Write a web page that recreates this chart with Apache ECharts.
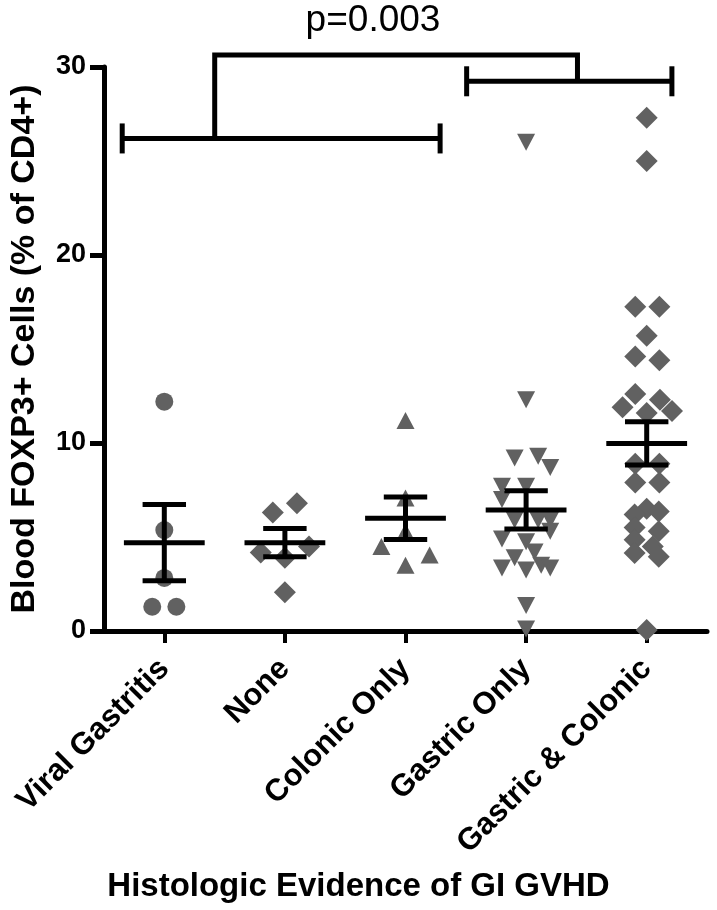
<!DOCTYPE html>
<html>
<head>
<meta charset="utf-8">
<script src="https://cdn.jsdelivr.net/npm/echarts@6/dist/echarts.min.js"></script>
<style>
html,body{margin:0;padding:0;background:#ffffff;}
#chart{width:717px;height:910px;}
</style>
</head>
<body>
<div id="chart"></div>
<script>
// ---- data ----
const categories = ['Viral Gastritis', 'None', 'Colonic Only', 'Gastric Only', 'Gastric & Colonic'];

const viralValues  = [12.2, 5.37, 2.82, 1.29, 1.29];
const viralOffsets = [0, 0, 0, -0.1, 0.1];

const noneValues  = [6.3, 6.8, 4.17, 3.9, 4.5, 2.06];
const noneOffsets = [-0.1, 0.1, -0.2, 0, 0.2, 0];

const colonicValues  = [11.2, 7.07, 5.28, 4.49, 4.04, 3.5];
const colonicOffsets = [0, 0, 0, -0.2, 0.2, 0];

const gastricValues  = [26.0, 12.3, 9.2, 9.3, 8.7, 7.7, 7.7, 7.0, 5.9, 5.9, 5.9, 5.3, 4.9, 4.75, 4.2, 3.9, 3.35, 3.25, 3.5, 3.35, 1.35, 0.1];
const gastricOffsets = [0, 0, -0.095, 0.1, 0.2, -0.2, 0, -0.2, -0.095, 0.1, 0.2, 0.2, -0.2, 0, 0.07, -0.095, -0.2, 0, 0.125, 0.2, 0, 0];

const bothValues  = [27.3, 25.0, 17.25, 17.25, 15.7, 14.6, 14.4, 12.6, 12.3, 11.9, 11.7, 11.6, 8.9, 8.9, 7.9, 7.9, 6.5, 6.2, 6.35, 5.5, 5.3, 4.85, 4.5, 4.15, 3.95, 0.05];
const bothOffsets = [0, 0, -0.095, 0.105, 0, -0.095, 0.105, -0.095, 0.11, -0.2, 0.21, 0, -0.095, 0.105, -0.095, 0.105, 0, -0.1, 0.1, -0.1, 0.1, -0.1, 0.05, -0.1, 0.1, 0];

const groupMeans = [4.7, 4.7, 6.0, 6.44, 9.98];
const groupSems  = [2.03, 0.75, 1.13, 1.02, 1.15];

// comparison brackets: [xStart, xEnd, y] in category-band units (band i centred at i + 0.5)
const spanBrackets = [[0.151, 2.787, 26.2], [3.007, 4.709, 29.24]];
// top connector: [xLeft, xRight, yTop, yLeftEnd, yRightEnd]
const topBracket = [0.918, 3.926, 30.64, 26.2, 29.24];
const pLabel = 'p=0.003';

const yTitle = 'Blood FOXP3+ Cells (% of CD4+)';
const xTitle = 'Histologic Evidence of GI GVHD';

// ---- build ----
const FONT = '"Liberation Sans", Arial, sans-serif';
const POINT = '#616161';

function pts(vals, offs, idx) {
  return vals.map((v, i) => [idx + 0.5 + offs[i], v]);
}

const chart = echarts.init(document.getElementById('chart'), null, {renderer: 'canvas'});

const scatterBase = {type: 'scatter', xAxisIndex: 1, yAxisIndex: 0, itemStyle: {color: POINT, opacity: 1}, z: 2, silent: true};

const option = {
  animation: false,
  backgroundColor: '#ffffff',
  grid: {left: 100, right: 10, top: 67, bottom: 279, containLabel: false},
  xAxis: [
    {
      type: 'category',
      data: categories,
      boundaryGap: true,
      axisLine: {show: true, lineStyle: {color: '#000', width: 5}},
      axisTick: {show: true, alignWithLabel: true, length: 12, lineStyle: {color: '#000', width: 4}},
      axisLabel: {rotate: 45, margin: 33, color: '#000', fontSize: 31, fontWeight: 'bold', fontFamily: FONT, interval: 0},
      splitLine: {show: false}
    },
    {
      type: 'value', min: 0, max: 5, show: false, splitLine: {show: false}
    }
  ],
  yAxis: {
    type: 'value', min: 0, max: 30, interval: 10,
    name: yTitle, nameLocation: 'middle', nameGap: 62,
    nameTextStyle: {color: '#000', fontSize: 34, fontWeight: 'bold', fontFamily: FONT},
    axisLine: {show: true, lineStyle: {color: '#000', width: 5}},
    axisTick: {show: true, length: 14, lineStyle: {color: '#000', width: 5}},
    axisLabel: {margin: 18, color: '#000', fontSize: 27, fontWeight: 'bold', fontFamily: FONT},
    splitLine: {show: false}
  },
  graphic: [
    {type: 'text', x: 373, y: 21, style: {text: pLabel, font: '37px ' + FONT, fill: '#000', textAlign: 'center', textVerticalAlign: 'middle'}},
    {type: 'text', x: 358.5, y: 887, style: {text: xTitle, font: 'bold 33px ' + FONT, fill: '#000', textAlign: 'center', textVerticalAlign: 'middle'}}
  ],
  series: [
    Object.assign({}, scatterBase, {name: categories[0], symbol: 'circle', symbolSize: 18, data: pts(viralValues, viralOffsets, 0)}),
    Object.assign({}, scatterBase, {name: categories[1], symbol: 'diamond', symbolSize: [22, 22], data: pts(noneValues, noneOffsets, 1)}),
    Object.assign({}, scatterBase, {name: categories[2], symbol: 'triangle', symbolSize: [18, 17], data: pts(colonicValues, colonicOffsets, 2)}),
    Object.assign({}, scatterBase, {name: categories[3], symbol: 'triangle', symbolRotate: 180, symbolSize: [18, 17], data: pts(gastricValues, gastricOffsets, 3)}),
    Object.assign({}, scatterBase, {name: categories[4], symbol: 'diamond', symbolSize: [22, 22], data: pts(bothValues, bothOffsets, 4)}),
    {
      type: 'custom', name: 'mean ± SEM', xAxisIndex: 1, yAxisIndex: 0, z: 5, silent: true, clip: false,
      data: groupMeans.map((m, i) => [i + 0.5, m, groupSems[i]]),
      renderItem: function (params, api) {
        const x = api.value(0), m = api.value(1), s = api.value(2);
        const c = api.coord([x, m]), hi = api.coord([x, m + s]), lo = api.coord([x, m - s]);
        const unit = api.size([1, 0])[0];
        const mw = unit * 0.335, cw = unit * 0.18;
        const st = {stroke: '#000', lineWidth: 5, fill: null};
        return {type: 'group', children: [
          {type: 'line', shape: {x1: c[0], y1: hi[1], x2: c[0], y2: lo[1]}, style: st},
          {type: 'line', shape: {x1: c[0] - cw, y1: hi[1], x2: c[0] + cw, y2: hi[1]}, style: st},
          {type: 'line', shape: {x1: c[0] - cw, y1: lo[1], x2: c[0] + cw, y2: lo[1]}, style: st},
          {type: 'line', shape: {x1: c[0] - mw, y1: c[1], x2: c[0] + mw, y2: c[1]}, style: st}
        ]};
      }
    },
    {
      type: 'custom', name: 'brackets', xAxisIndex: 1, yAxisIndex: 0, z: 5, silent: true, clip: false,
      data: spanBrackets,
      renderItem: function (params, api) {
        const a = api.coord([api.value(0), api.value(2)]);
        const b = api.coord([api.value(1), api.value(2)]);
        const capH = 15;
        const st = {stroke: '#000', lineWidth: 5, fill: null};
        return {type: 'group', children: [
          {type: 'line', shape: {x1: a[0], y1: a[1], x2: b[0], y2: b[1]}, style: st},
          {type: 'line', shape: {x1: a[0], y1: a[1] - capH, x2: a[0], y2: a[1] + capH}, style: st},
          {type: 'line', shape: {x1: b[0], y1: b[1] - capH, x2: b[0], y2: b[1] + capH}, style: st}
        ]};
      }
    },
    {
      type: 'custom', name: 'connector', xAxisIndex: 1, yAxisIndex: 0, z: 5, silent: true, clip: false,
      data: [topBracket],
      renderItem: function (params, api) {
        const xl = api.value(0), xr = api.value(1), yt = api.value(2), yl = api.value(3), yr = api.value(4);
        const p1 = api.coord([xl, yl]), p2 = api.coord([xl, yt]), p3 = api.coord([xr, yt]), p4 = api.coord([xr, yr]);
        return {type: 'polyline', shape: {points: [p1, p2, p3, p4]},
          style: {stroke: '#000', lineWidth: 5, fill: null, lineJoin: 'miter'}};
      }
    }
  ]
};

chart.setOption(option);
</script>
</body>
</html>
